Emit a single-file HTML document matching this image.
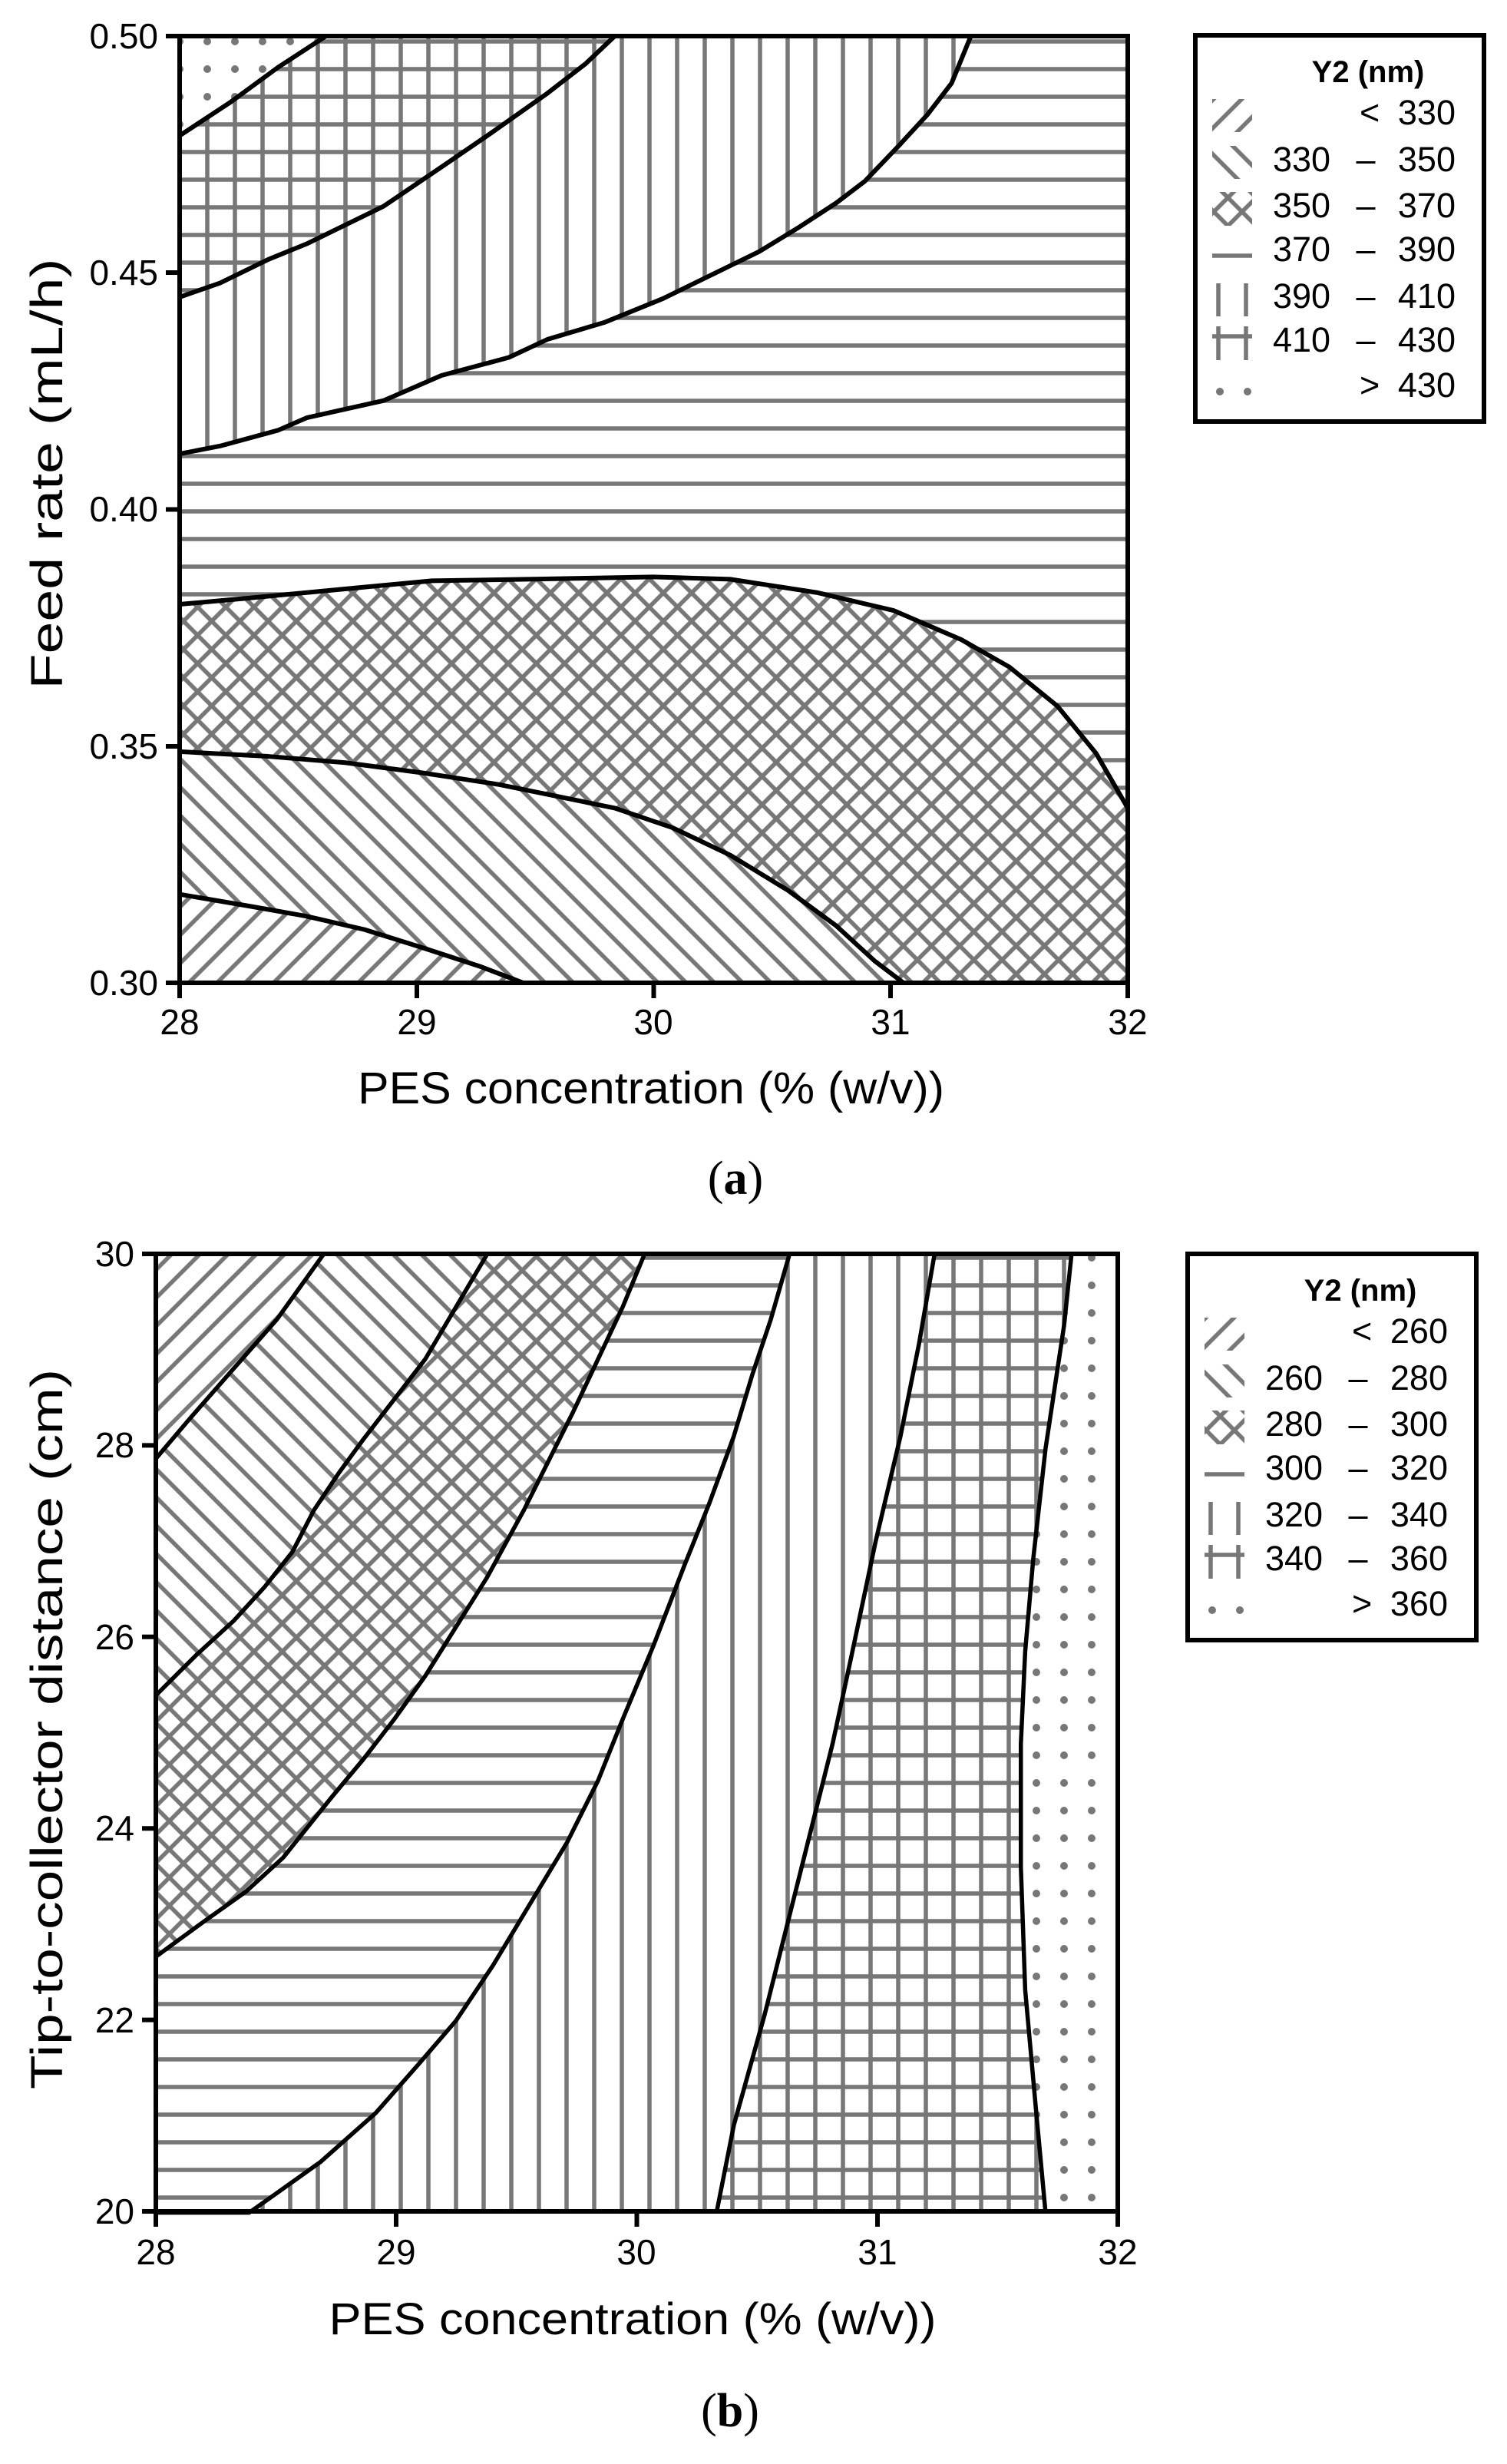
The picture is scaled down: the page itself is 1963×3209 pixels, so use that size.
<!DOCTYPE html>
<html><head><meta charset="utf-8"><style>
html,body{margin:0;padding:0;background:#fff}
svg{display:block}
text{font-family:"Liberation Sans",Arial,sans-serif;fill:#000}
</style></head><body>
<svg width="1963" height="3209" viewBox="0 0 1963 3209" xmlns="http://www.w3.org/2000/svg">
<defs>
<pattern id="hz" patternUnits="userSpaceOnUse" width="36" height="36"><rect width="36" height="36" fill="#fff"/><line x1="0" y1="18" x2="36" y2="18" stroke="#777" stroke-width="5.5"/></pattern>
<pattern id="vt" patternUnits="userSpaceOnUse" width="36" height="36"><rect width="36" height="36" fill="#fff"/><line x1="18" y1="0" x2="18" y2="36" stroke="#777" stroke-width="5.5"/></pattern>
<pattern id="gr" patternUnits="userSpaceOnUse" width="36" height="36"><rect width="36" height="36" fill="#fff"/><line x1="0" y1="18" x2="36" y2="18" stroke="#777" stroke-width="5.5"/><line x1="18" y1="0" x2="18" y2="36" stroke="#777" stroke-width="5.5"/></pattern>
<pattern id="fw" patternUnits="userSpaceOnUse" width="26" height="26" patternTransform="rotate(-45)"><rect width="26" height="26" fill="#fff"/><line x1="0" y1="13" x2="26" y2="13" stroke="#777" stroke-width="5.5"/></pattern>
<pattern id="bk" patternUnits="userSpaceOnUse" width="26" height="26" patternTransform="rotate(45)"><rect width="26" height="26" fill="#fff"/><line x1="0" y1="13" x2="26" y2="13" stroke="#777" stroke-width="5.5"/></pattern>
<pattern id="cr" patternUnits="userSpaceOnUse" width="26" height="26" patternTransform="rotate(45)"><rect width="26" height="26" fill="#fff"/><line x1="0" y1="13" x2="26" y2="13" stroke="#777" stroke-width="5.5"/><line x1="13" y1="0" x2="13" y2="26" stroke="#777" stroke-width="5.5"/></pattern>
<pattern id="dt" patternUnits="userSpaceOnUse" width="36" height="36"><rect width="36" height="36" fill="#fff"/><circle cx="18" cy="18" r="5" fill="#777"/></pattern>

<clipPath id="a_vt"><path transform="matrix(1.2538 0 0 1.0207 -1.7 1.1)" d="M188,578 L230,568 L290,548 L320,532 L400,510 L460,478 L530,455 L570,432 L630,410 L690,380 L740,350 L790,320 L830,290 L870,258 L900,230 L935,185 L965,145 L990,105 L1010,45 L188,45 Z"/></clipPath>
<clipPath id="a_gr"><path transform="matrix(1.2538 0 0 1.0207 -1.7 1.1)" d="M188,378 L230,360 L280,330 L320,310 L400,262 L460,212 L510,170 L570,118 L610,80 L640,45 L188,45 Z"/></clipPath>
<clipPath id="a_dt"><path transform="matrix(1.2538 0 0 1.0207 -1.7 1.1)" d="M188,172 L240,130 L290,85 L340,45 L188,45 Z"/></clipPath>
<clipPath id="a_cr"><path transform="matrix(1.2538 0 0 1.0207 -1.7 1.1)" d="M188,770 L260,762 L380,748 L450,740 L550,738 L680,735 L760,738 L850,755 L930,778 L1000,815 L1050,850 L1100,900 L1140,960 L1173,1030 L1173,1253 L188,1253 Z"/></clipPath>
<clipPath id="a_bk"><path transform="matrix(1.2538 0 0 1.0207 -1.7 1.1)" d="M188,958 L280,964 L360,972 L440,985 L520,1000 L580,1015 L640,1030 L700,1055 L760,1090 L820,1135 L870,1180 L910,1225 L940,1253 L188,1253 Z"/></clipPath>
<clipPath id="a_fw"><path transform="matrix(1.2538 0 0 1.0207 -1.7 1.1)" d="M188,1140 L260,1155 L320,1168 L380,1185 L440,1208 L500,1232 L545,1253 L188,1253 Z"/></clipPath>

<clipPath id="b_gr"><path transform="matrix(0.8041 0 0 0.8013 200 1630)" d="M1445,1562 L1430,1400 L1412,1200 L1405,1000 L1405,800 L1412,650 L1425,500 L1445,320 L1475,120 L1487,5 L5,5 L5,1562 Z"/></clipPath>
<clipPath id="b_vt"><path transform="matrix(0.8041 0 0 0.8013 200 1630)" d="M912,1562 L940,1420 L990,1240 L1030,1080 L1070,920 L1100,800 L1130,660 L1170,470 L1210,300 L1240,150 L1265,5 L5,5 L5,1562 Z"/></clipPath>
<clipPath id="b_hz"><path transform="matrix(0.8041 0 0 0.8013 200 1630)" d="M155,1562 L200,1530 L270,1480 L360,1400 L430,1320 L490,1250 L550,1160 L610,1060 L670,960 L720,860 L760,760 L810,640 L860,510 L900,410 L940,300 L970,200 L1000,110 L1030,5 L5,5 L5,1562 Z"/></clipPath>
<clipPath id="b_cr"><path transform="matrix(0.8041 0 0 0.8013 200 1630)" d="M5,1145 L80,1090 L150,1040 L210,985 L250,935 L290,885 L340,825 L390,760 L440,690 L490,610 L540,530 L600,420 L640,340 L680,260 L720,175 L760,90 L795,5 L5,5 Z"/></clipPath>
<clipPath id="b_bk"><path transform="matrix(0.8041 0 0 0.8013 200 1630)" d="M5,720 L70,655 L130,600 L180,545 L225,488 L260,420 L300,360 L340,305 L390,240 L440,175 L490,90 L540,5 L5,5 Z"/></clipPath>
<clipPath id="b_fw"><path transform="matrix(0.8041 0 0 0.8013 200 1630)" d="M5,335 L60,270 L130,190 L200,110 L275,5 L5,5 Z"/></clipPath>
</defs>

<rect x="234" y="47" width="1235" height="1233" fill="url(#hz)"/>
<rect x="234" y="47" width="1235" height="1233" fill="url(#vt)" clip-path="url(#a_vt)"/>
<rect x="234" y="47" width="1235" height="1233" fill="url(#gr)" clip-path="url(#a_gr)"/>
<rect x="234" y="47" width="1235" height="1233" fill="url(#dt)" clip-path="url(#a_dt)"/>
<rect x="234" y="47" width="1235" height="1233" fill="url(#cr)" clip-path="url(#a_cr)"/>
<rect x="234" y="47" width="1235" height="1233" fill="url(#bk)" clip-path="url(#a_bk)"/>
<rect x="234" y="47" width="1235" height="1233" fill="url(#fw)" clip-path="url(#a_fw)"/>
<g transform="matrix(1.2538 0 0 1.0207 -1.7 1.1)" fill="none" stroke="#000" stroke-width="6" stroke-linejoin="round">
<path vector-effect="non-scaling-stroke" d="M188,172 L240,130 L290,85 L340,45"/>
<path vector-effect="non-scaling-stroke" d="M188,378 L230,360 L280,330 L320,310 L400,262 L460,212 L510,170 L570,118 L610,80 L640,45"/>
<path vector-effect="non-scaling-stroke" d="M188,578 L230,568 L290,548 L320,532 L400,510 L460,478 L530,455 L570,432 L630,410 L690,380 L740,350 L790,320 L830,290 L870,258 L900,230 L935,185 L965,145 L990,105 L1010,45"/>
<path vector-effect="non-scaling-stroke" d="M188,770 L260,762 L380,748 L450,740 L550,738 L680,735 L760,738 L850,755 L930,778 L1000,815 L1050,850 L1100,900 L1140,960 L1173,1030"/>
<path vector-effect="non-scaling-stroke" d="M188,958 L280,964 L360,972 L440,985 L520,1000 L580,1015 L640,1030 L700,1055 L760,1090 L820,1135 L870,1180 L910,1225 L940,1253"/>
<path vector-effect="non-scaling-stroke" d="M188,1140 L260,1155 L320,1168 L380,1185 L440,1208 L500,1232 L545,1253"/>
</g>
<rect x="234" y="47" width="1235" height="1233" fill="none" stroke="#000" stroke-width="6"/>
<g stroke="#000" stroke-width="6">
<line x1="216" y1="47" x2="234" y2="47"/><line x1="216" y1="355" x2="234" y2="355"/><line x1="216" y1="663.5" x2="234" y2="663.5"/><line x1="216" y1="972" x2="234" y2="972"/><line x1="216" y1="1280" x2="234" y2="1280"/>
<line x1="234" y1="1280" x2="234" y2="1300"/><line x1="543" y1="1280" x2="543" y2="1300"/><line x1="851.5" y1="1280" x2="851.5" y2="1300"/><line x1="1160" y1="1280" x2="1160" y2="1300"/><line x1="1469" y1="1280" x2="1469" y2="1300"/>
</g>
<g font-size="46" text-anchor="end">
<text x="206" y="63">0.50</text><text x="206" y="371">0.45</text><text x="206" y="679">0.40</text><text x="206" y="988">0.35</text><text x="206" y="1296">0.30</text>
</g>
<g font-size="46" text-anchor="middle">
<text x="234" y="1347">28</text><text x="543" y="1347">29</text><text x="851" y="1347">30</text><text x="1160" y="1347">31</text><text x="1469" y="1347">32</text>
</g>
<text x="848" y="1437" font-size="58" text-anchor="middle" textLength="764" lengthAdjust="spacingAndGlyphs">PES concentration (% (w/v))</text>
<text transform="translate(81,617) rotate(-90)" font-size="58" text-anchor="middle" textLength="561" lengthAdjust="spacingAndGlyphs">Feed rate (mL/h)</text>
<text x="958" y="1555" font-size="62" text-anchor="middle" style="font-family:'Liberation Serif',serif">(<tspan font-weight="bold">a</tspan>)</text>

<g id="leg">
<rect x="1557" y="46" width="376" height="503" fill="#fff" stroke="#000" stroke-width="6"/>
<text x="1782" y="107" font-size="40" font-weight="bold" text-anchor="middle">Y2 (nm)</text>
<rect x="1579" y="129" width="52" height="43" fill="url(#fw)"/>
<rect x="1579" y="190" width="52" height="43" fill="url(#bk)"/>
<rect x="1579" y="250" width="52" height="44" fill="url(#cr)"/>
<line x1="1579" y1="333" x2="1631" y2="333" stroke="#777" stroke-width="5.5"/>
<line x1="1587" y1="369" x2="1587" y2="412" stroke="#777" stroke-width="5.5"/><line x1="1623" y1="369" x2="1623" y2="412" stroke="#777" stroke-width="5.5"/>
<line x1="1587" y1="425" x2="1587" y2="469" stroke="#777" stroke-width="5.5"/><line x1="1623" y1="425" x2="1623" y2="469" stroke="#777" stroke-width="5.5"/><line x1="1579" y1="438" x2="1631" y2="438" stroke="#777" stroke-width="5.5"/>
<circle cx="1589" cy="510" r="5" fill="#777"/><circle cx="1625" cy="510" r="5" fill="#777"/>
</g>
<g font-size="45">
<text x="1771" y="162">&lt;</text><text x="1896" y="162" text-anchor="end">330</text>
<text x="1658" y="223">330</text><text x="1779" y="223" text-anchor="middle">–</text><text x="1896" y="223" text-anchor="end">350</text>
<text x="1658" y="283">350</text><text x="1779" y="283" text-anchor="middle">–</text><text x="1896" y="283" text-anchor="end">370</text>
<text x="1658" y="340">370</text><text x="1779" y="340" text-anchor="middle">–</text><text x="1896" y="340" text-anchor="end">390</text>
<text x="1658" y="401">390</text><text x="1779" y="401" text-anchor="middle">–</text><text x="1896" y="401" text-anchor="end">410</text>
<text x="1658" y="458">410</text><text x="1779" y="458" text-anchor="middle">–</text><text x="1896" y="458" text-anchor="end">430</text>
<text x="1771" y="517">&gt;</text><text x="1896" y="517" text-anchor="end">430</text>
</g>

<rect x="203" y="1633" width="1253" height="1247" fill="url(#dt)"/>
<rect x="203" y="1633" width="1253" height="1247" fill="url(#gr)" clip-path="url(#b_gr)"/>
<rect x="203" y="1633" width="1253" height="1247" fill="url(#vt)" clip-path="url(#b_vt)"/>
<rect x="203" y="1633" width="1253" height="1247" fill="url(#hz)" clip-path="url(#b_hz)"/>
<rect x="203" y="1633" width="1253" height="1247" fill="url(#cr)" clip-path="url(#b_cr)"/>
<rect x="203" y="1633" width="1253" height="1247" fill="url(#bk)" clip-path="url(#b_bk)"/>
<rect x="203" y="1633" width="1253" height="1247" fill="url(#fw)" clip-path="url(#b_fw)"/>
<g transform="matrix(0.8041 0 0 0.8013 200 1630)" fill="none" stroke="#000" stroke-width="5.5" stroke-linejoin="round">
<path vector-effect="non-scaling-stroke" d="M5,335 L60,270 L130,190 L200,110 L275,5"/>
<path vector-effect="non-scaling-stroke" d="M5,720 L70,655 L130,600 L180,545 L225,488 L260,420 L300,360 L340,305 L390,240 L440,175 L490,90 L540,5"/>
<path vector-effect="non-scaling-stroke" d="M5,1145 L80,1090 L150,1040 L210,985 L250,935 L290,885 L340,825 L390,760 L440,690 L490,610 L540,530 L600,420 L640,340 L680,260 L720,175 L760,90 L795,5"/>
<path vector-effect="non-scaling-stroke" d="M5,1562 L155,1562 L200,1530 L270,1480 L360,1400 L430,1320 L490,1250 L550,1160 L610,1060 L670,960 L720,860 L760,760 L810,640 L860,510 L900,410 L940,300 L970,200 L1000,110 L1030,5"/>
<path vector-effect="non-scaling-stroke" d="M912,1562 L940,1420 L990,1240 L1030,1080 L1070,920 L1100,800 L1130,660 L1170,470 L1210,300 L1240,150 L1265,5"/>
<path vector-effect="non-scaling-stroke" d="M1445,1562 L1430,1400 L1412,1200 L1405,1000 L1405,800 L1412,650 L1425,500 L1445,320 L1475,120 L1487,5"/>
</g>
<rect x="203" y="1633" width="1253" height="1247" fill="none" stroke="#000" stroke-width="6"/>
<g stroke="#000" stroke-width="6">
<line x1="185" y1="1633" x2="203" y2="1633"/><line x1="185" y1="1882.4" x2="203" y2="1882.4"/><line x1="185" y1="2131.8" x2="203" y2="2131.8"/><line x1="185" y1="2381.2" x2="203" y2="2381.2"/><line x1="185" y1="2630.6" x2="203" y2="2630.6"/><line x1="185" y1="2880" x2="203" y2="2880"/>
<line x1="203" y1="2880" x2="203" y2="2900"/><line x1="516" y1="2880" x2="516" y2="2900"/><line x1="829.5" y1="2880" x2="829.5" y2="2900"/><line x1="1143" y1="2880" x2="1143" y2="2900"/><line x1="1456" y1="2880" x2="1456" y2="2900"/>
</g>
<g font-size="46" text-anchor="end">
<text x="175" y="1649">30</text><text x="175" y="1898">28</text><text x="175" y="2148">26</text><text x="175" y="2397">24</text><text x="175" y="2647">22</text><text x="175" y="2896">20</text>
</g>
<g font-size="46" text-anchor="middle">
<text x="203" y="2949">28</text><text x="516" y="2949">29</text><text x="829" y="2949">30</text><text x="1143" y="2949">31</text><text x="1456" y="2949">32</text>
</g>
<text x="824" y="3040" font-size="58" text-anchor="middle" textLength="791" lengthAdjust="spacingAndGlyphs">PES concentration (% (w/v))</text>
<text transform="translate(81,2252) rotate(-90)" font-size="58" text-anchor="middle" textLength="938" lengthAdjust="spacingAndGlyphs">Tip-to-collector distance (cm)</text>
<text x="951" y="3160" font-size="62" text-anchor="middle" style="font-family:'Liberation Serif',serif">(<tspan font-weight="bold">b</tspan>)</text>

<use href="#leg" transform="translate(-10,1587)"/>
<g font-size="45" transform="translate(-10,1587)">
<text x="1771" y="162">&lt;</text><text x="1896" y="162" text-anchor="end">260</text>
<text x="1658" y="223">260</text><text x="1779" y="223" text-anchor="middle">–</text><text x="1896" y="223" text-anchor="end">280</text>
<text x="1658" y="283">280</text><text x="1779" y="283" text-anchor="middle">–</text><text x="1896" y="283" text-anchor="end">300</text>
<text x="1658" y="340">300</text><text x="1779" y="340" text-anchor="middle">–</text><text x="1896" y="340" text-anchor="end">320</text>
<text x="1658" y="401">320</text><text x="1779" y="401" text-anchor="middle">–</text><text x="1896" y="401" text-anchor="end">340</text>
<text x="1658" y="458">340</text><text x="1779" y="458" text-anchor="middle">–</text><text x="1896" y="458" text-anchor="end">360</text>
<text x="1771" y="517">&gt;</text><text x="1896" y="517" text-anchor="end">360</text>
</g>
</svg>
</body></html>
